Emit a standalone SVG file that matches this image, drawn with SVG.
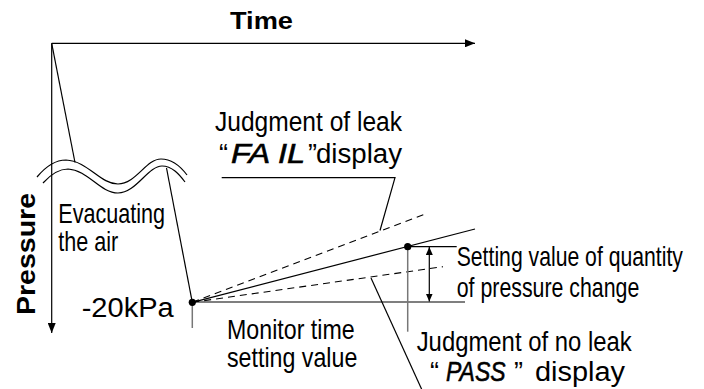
<svg xmlns="http://www.w3.org/2000/svg" width="704" height="389" viewBox="0 0 704 389">
<style>
.t{font-family:"Liberation Sans",Arial,sans-serif;font-size:27px;fill:#000}
.b{font-family:"Liberation Sans",Arial,sans-serif;font-size:23px;font-weight:bold;fill:#000}
.p{font-family:"Liberation Sans",Arial,sans-serif;font-size:25px;font-weight:bold;fill:#000}
.seg{font-family:"Liberation Sans",Arial,sans-serif;font-size:28px;font-style:italic;fill:#000;stroke:#000;stroke-width:0.6}
.ln{stroke:#000;stroke-width:1.2;fill:none}
.gr{stroke:#777;stroke-width:1.5;fill:none}
.ds{stroke:#000;stroke-width:1.1;fill:none;stroke-dasharray:7 5}
</style>
<defs>
<marker id="ah" viewBox="0 0 10 8" refX="10" refY="4" markerWidth="10" markerHeight="8" markerUnits="userSpaceOnUse" orient="auto">
<path d="M0,0 L10,4 L0,8 Z" fill="#000"/>
</marker>
<marker id="as" viewBox="0 0 8 7" refX="8" refY="3.5" markerWidth="8" markerHeight="7" markerUnits="userSpaceOnUse" orient="auto-start-reverse">
<path d="M0,0 L8,3.5 L0,7 Z" fill="#000"/>
</marker>
</defs>
<g id="connectors">
<line class="ln" x1="51.7" y1="43.3" x2="475" y2="43.3" marker-end="url(#ah)"/>
<line class="ln" x1="51.7" y1="43.3" x2="51.7" y2="333" marker-end="url(#ah)"/>
<line class="ln" x1="51.7" y1="43.3" x2="75" y2="162.5"/>
<line class="ln" x1="166.5" y1="168" x2="192.3" y2="302.3"/>
<path class="ln" d="M37,177 C47,165 56,160 66,160 C88,161 100,184 118,184 C136,184 146,159 161,159 C172,159 181,167 187,175"/>
<path class="ln" d="M43,183 C52,173 60,169 68,169 C88,170 100,193 118,193 C136,193 148,166 162,166 C172,166 179,174 185,182"/>
<line class="ln" x1="192.3" y1="302" x2="465" y2="302"/>
<line class="gr" x1="192.3" y1="302" x2="192.3" y2="328"/>
<line class="ln" x1="192.3" y1="302.3" x2="475" y2="229"/>
<line class="ds" x1="192.3" y1="302.3" x2="428" y2="213"/>
<line class="ds" x1="192.3" y1="302.3" x2="443" y2="266.7"/>
<line class="gr" x1="407.7" y1="246.7" x2="407.7" y2="331.7"/>
<line class="ln" x1="407.7" y1="246.7" x2="456.7" y2="246.7"/>
<line class="ln" x1="429.3" y1="247" x2="429.3" y2="301.5" marker-start="url(#as)" marker-end="url(#as)"/>
<polyline class="ln" points="221.7,177.7 395,177.7 380,230.5"/>
<line class="ln" x1="371" y1="278" x2="422" y2="390"/>
<circle cx="192.3" cy="302.3" r="3.6" fill="#000"/>
<circle cx="407.7" cy="246.7" r="3.6" fill="#000"/>
</g>
<g id="axis-time"><text class="b" x="230" y="29" textLength="63" lengthAdjust="spacingAndGlyphs">Time</text></g>
<g id="axis-pressure"><text class="p" transform="translate(35,315) rotate(-90)" x="0" y="0" textLength="122" lengthAdjust="spacingAndGlyphs">Pressure</text></g>
<g id="label-evac">
<text class="t" transform="translate(58.3,222.7) scale(0.8,1)" x="0" y="0">Evacuating</text>
<text class="t" transform="translate(58.3,251) scale(0.8,1)" x="0" y="0">the air</text>
</g>
<g id="label-20kpa"><text class="t" x="81.7" y="316.7" textLength="92" lengthAdjust="spacingAndGlyphs">-20kPa</text></g>
<g id="label-fail">
<text class="t" x="219" y="163">“</text>
<text class="t" x="215" y="131" textLength="187" lengthAdjust="spacingAndGlyphs">Judgment of leak</text>
<text class="seg" x="231" y="163" textLength="74" lengthAdjust="spacingAndGlyphs">FA IL</text>
<text class="t" x="308" y="163">”</text>
<text class="t" x="316" y="163" textLength="86" lengthAdjust="spacingAndGlyphs">display</text>
</g>
<g id="label-setting">
<text class="t" transform="translate(456.7,266) scale(0.785,1)" x="0" y="0">Setting value of quantity</text>
<text class="t" transform="translate(456.7,297) scale(0.79,1)" x="0" y="0">of pressure change</text>
</g>
<g id="label-monitor">
<text class="t" transform="translate(227,339) scale(0.86,1)" x="0" y="0">Monitor time</text>
<text class="t" transform="translate(227,367) scale(0.86,1)" x="0" y="0">setting value</text>
</g>
<g id="label-pass">
<text class="t" x="416.7" y="351" textLength="215" lengthAdjust="spacingAndGlyphs">Judgment of no leak</text>
<text class="t" x="430" y="381">“</text>
<text class="seg" transform="translate(446,381) scale(0.82,1)" x="0" y="0">PASS</text>
<text class="t" x="514" y="381">”</text>
<text class="t" x="535" y="381" textLength="90" lengthAdjust="spacingAndGlyphs">display</text>
</g>
</svg>
